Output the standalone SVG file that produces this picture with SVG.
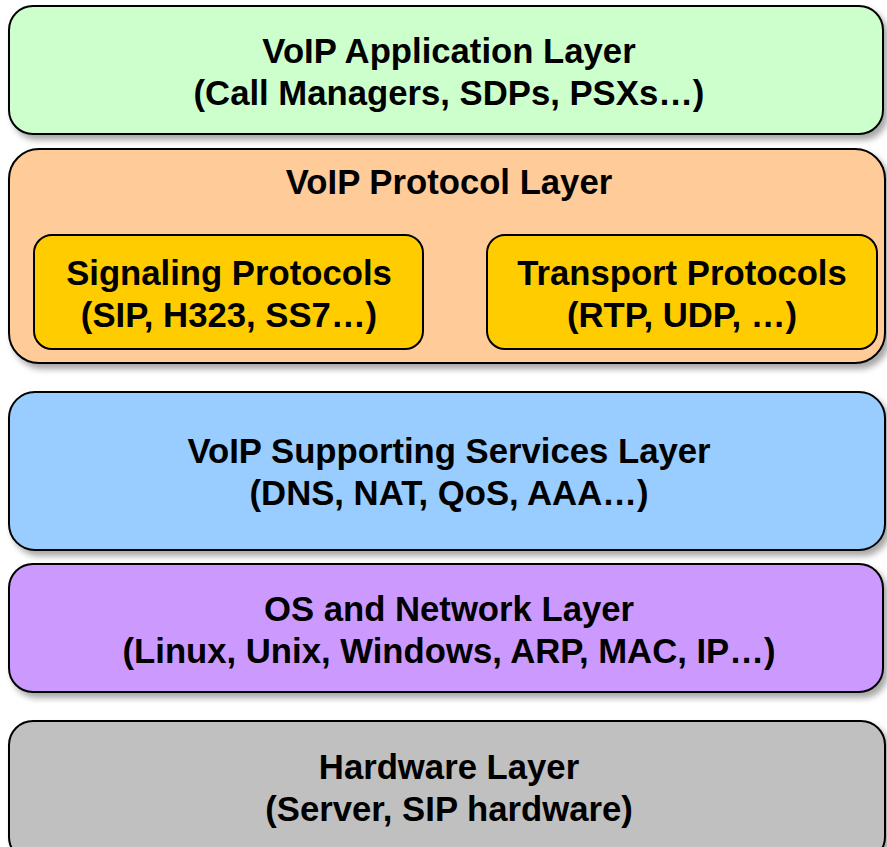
<svg xmlns="http://www.w3.org/2000/svg" width="887" height="847" viewBox="0 0 887 847">
<style>
.box{stroke:#000;stroke-width:2}
.t{font-family:"Liberation Sans",Arial,sans-serif;font-weight:bold;font-size:34.7px;text-anchor:middle;fill:#000}
</style>
<defs>
<filter id="sh" x="-5%" y="-10%" width="115%" height="130%">
<feDropShadow dx="4" dy="5" stdDeviation="3" flood-color="#000" flood-opacity="0.35"/>
</filter>
</defs>
<rect width="887" height="847" fill="#fff"/>
<g id="app">
<rect class="box" x="9" y="6" width="874" height="128" rx="24" fill="#ccffcc" filter="url(#sh)"/>
<text class="t" x="449" y="63">VoIP Application Layer</text>
<text class="t" x="449" y="105">(Call Managers, SDPs, PSXs…)</text>
</g>
<g id="protocol">
<rect class="box" x="9" y="149" width="876" height="214" rx="30" fill="#ffcc99" filter="url(#sh)"/>
<text class="t" x="449" y="194">VoIP Protocol Layer</text>
</g>
<g id="signaling">
<rect class="box" x="34" y="235" width="389" height="114" rx="18" fill="#ffcc00"/>
<text class="t" x="229" y="285">Signaling Protocols</text>
<text class="t" x="229" y="327">(SIP, H323, SS7…)</text>
</g>
<g id="transport">
<rect class="box" x="487" y="235" width="390" height="114" rx="18" fill="#ffcc00"/>
<text class="t" x="682" y="285">Transport Protocols</text>
<text class="t" x="682" y="327">(RTP, UDP, …)</text>
</g>
<g id="supporting">
<rect class="box" x="9" y="392" width="876" height="158" rx="26" fill="#99ccff" filter="url(#sh)"/>
<text class="t" x="449" y="463">VoIP Supporting Services Layer</text>
<text class="t" x="449" y="505">(DNS, NAT, QoS, AAA…)</text>
</g>
<g id="os">
<rect class="box" x="9" y="564" width="874" height="128" rx="24" fill="#cc99ff" filter="url(#sh)"/>
<text class="t" x="449" y="621">OS and Network Layer</text>
<text class="t" x="449" y="663">(Linux, Unix, Windows, ARP, MAC, IP…)</text>
</g>
<g id="hardware">
<rect class="box" x="9" y="721" width="876" height="140" rx="24" fill="#c0c0c0" filter="url(#sh)"/>
<text class="t" x="449" y="779">Hardware Layer</text>
<text class="t" x="449" y="821">(Server, SIP hardware)</text>
</g>
<g id="connectors"/>
</svg>
